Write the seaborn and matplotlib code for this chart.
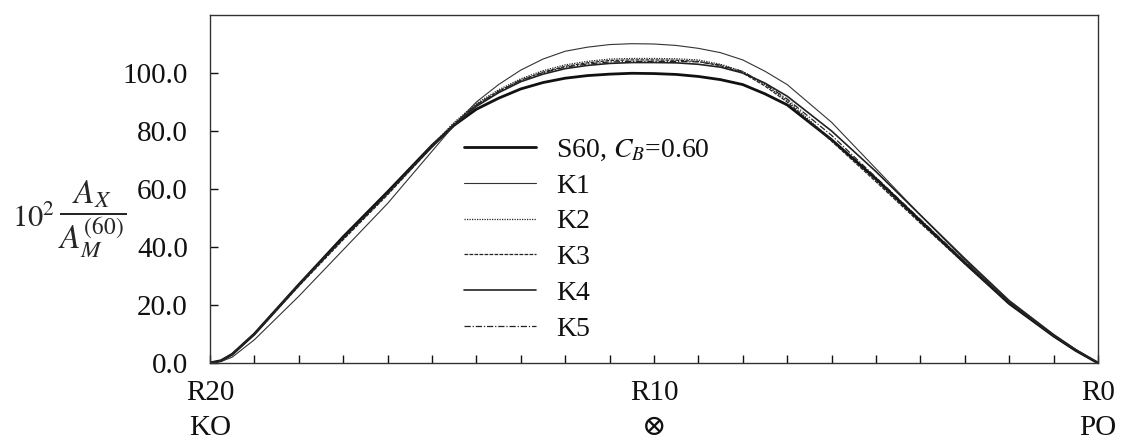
import matplotlib
matplotlib.use('Agg')
import matplotlib.pyplot as plt
import seaborn as sns

# Stations (R0 = PO at the right, R20 = KO at the left)
stations = [0, 0.5, 1, 2, 3, 4, 5, 6, 7, 7.5, 8, 8.5, 9, 9.5, 10, 10.5, 11, 11.5, 12, 12.5,
            13, 13.5, 14, 14.5, 15, 16, 17, 18, 19, 19.5, 19.75, 20]

# Sectional area curves, 10^2 * A_X / A_M(60)
s60 = [0, 4.3, 9.3, 20.5, 34.5, 49, 63.5, 77, 89, 92.8, 96, 97.7, 98.8, 99.5, 99.8, 99.9, 99.6, 99.1, 98.2, 96.7,
       94.5, 91.3, 87.5, 82, 75, 59, 43.5, 27, 10, 3, 0.8, 0]
k1 = [0, 4.5, 9.5, 21, 35.5, 51, 67, 83, 96, 100.6, 104.5, 107, 108.5, 109.5, 110, 110.1, 109.8, 108.9, 107.5, 104.8,
      101, 96, 90, 82, 73, 55, 39, 23, 8, 2, 0.5, 0]
k2 = [0, 4.4, 9.4, 20.8, 34.5, 48.5, 63, 77, 90.5, 96, 100.5, 103, 104.5, 104.9, 105, 105, 104.8, 104, 102.8, 100.8,
      98, 94.2, 89.5, 83, 75, 58.5, 43, 27, 10, 3, 0.8, 0]
k3 = [0, 4.4, 9.4, 20.6, 34.2, 48.2, 62.5, 76.5, 90, 95.5, 100, 102.5, 104, 104.4, 104.5, 104.5, 104.3, 103.5, 102.3, 100.3,
      97.5, 93.7, 89, 82.5, 74.5, 58, 42.5, 26.5, 9.8, 2.9, 0.8, 0]
k4 = [0, 4.6, 9.8, 21.5, 36, 51, 66, 80, 92, 96.5, 100, 102, 103, 103.5, 103.6, 103.6, 103.3, 102.6, 101.5, 99.6,
      97, 93.2, 88.5, 82, 74.5, 58.5, 43, 27, 10, 3, 0.8, 0]
k5 = [0, 4.5, 9.6, 21, 35, 49.5, 64, 78.5, 91, 96.2, 100.5, 102.7, 103.8, 104, 104, 104, 103.8, 103.1, 102, 100.1,
      97.5, 93.7, 89, 82.5, 75, 58.5, 43, 27, 10, 3, 0.8, 0]

series_names = ['S60, $C_B$=0.60', 'K1', 'K2', 'K3', 'K4', 'K5']
series_values = [s60, k1, k2, k3, k4, k5]

x_tick_pos = [20, 10, 0]
x_tick_labels = ['R20\nKO', 'R10\n\u2297', 'R0\nPO']
y_ticks = [0, 20, 40, 60, 80, 100]

styles = [
    dict(linewidth=2.0, linestyle='-', color='#111111'),
    dict(linewidth=0.8, linestyle='-', color='#333333'),
    dict(linewidth=0.9, linestyle=(0, (1, 1)), color='#222222'),
    dict(linewidth=0.9, linestyle=(0, (3, 1)), color='#222222'),
    dict(linewidth=1.2, linestyle='-', color='#222222'),
    dict(linewidth=0.9, linestyle=(0, (5, 1.5, 1, 1.5)), color='#222222'),
]

sns.set_style('ticks')
plt.rcParams['font.family'] = ['Liberation Serif', 'DejaVu Serif']
plt.rcParams['mathtext.fontset'] = 'stix'

fig = plt.figure(figsize=(11.23, 4.41), dpi=100)
ax = fig.add_axes([0.187, 0.177, 0.7907, 0.789])

for name, vals, st in zip(series_names, series_values, styles):
    sns.lineplot(x=stations, y=vals, ax=ax, label=name, **st)

ax.set_xlim(20, 0)
ax.set_ylim(0, 120)

# ticks at every station, labels only at R20, R10, R0
ax.set_xticks(list(range(0, 21)))
ax.set_xticklabels([x_tick_labels[x_tick_pos.index(i)] if i in x_tick_pos else '' for i in range(0, 21)],
                   linespacing=1.45)
ax.set_yticks(y_ticks)
ax.set_yticklabels(['%.1f' % v for v in y_ticks])
ax.tick_params(axis='both', direction='in', length=6, width=1, labelsize=21, colors='#111111',
               bottom=True, left=True)
ax.tick_params(axis='x', pad=12)
ax.tick_params(axis='y', pad=16)

for sp in ax.spines.values():
    sp.set_color('#333333')
    sp.set_linewidth(1.0)

ax.set_xlabel('')
ax.set_ylabel('')
# y label: 10^2 * A_X / A_M^(60)
fig.text(12 / 1123, 0.503, r'$10^2$', fontsize=22, va='center', ha='left')
fig.text(58 / 1123, 0.503, r'$\dfrac{A_X}{A_M^{(60)}}$', fontsize=24, va='center', ha='left')

leg = ax.legend(loc='upper left', bbox_to_anchor=(0.258, 0.72), frameon=False, fontsize=20,
                handlelength=2.6, handletextpad=0.7, labelspacing=0.37)
for t in leg.get_texts():
    t.set_color('#111111')

fig.savefig('out.png', dpi=100)
